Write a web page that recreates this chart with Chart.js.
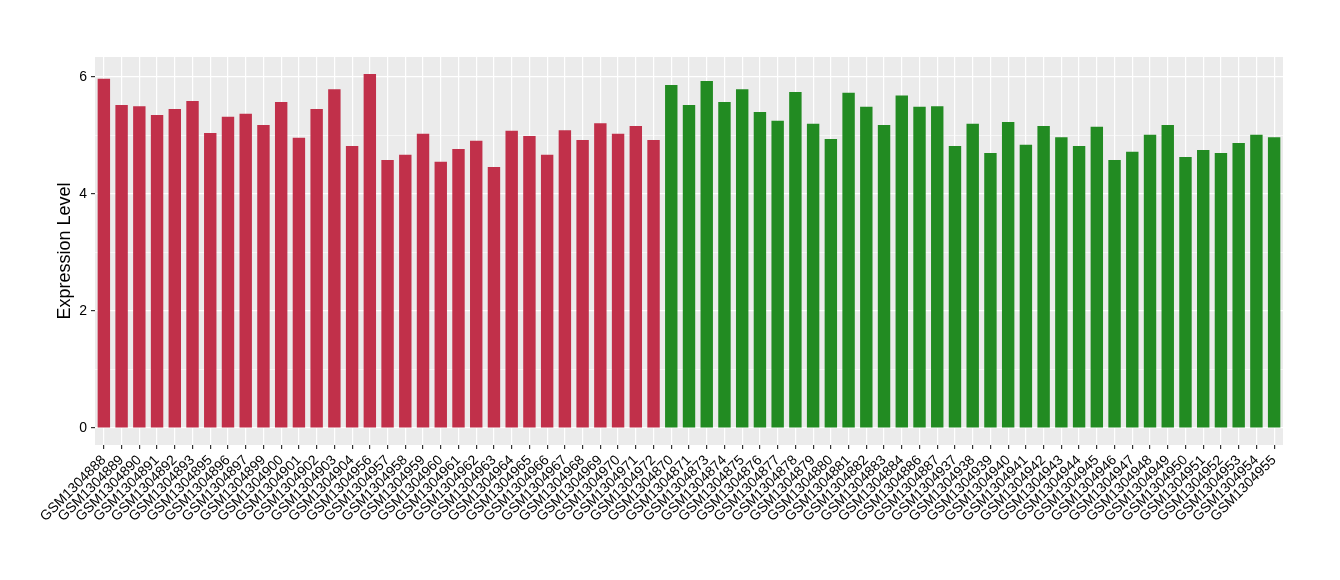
<!DOCTYPE html>
<html lang="en">
<head>
    <meta charset="UTF-8">
    <title>Expression Level</title>
    <script src="https://cdn.jsdelivr.net/npm/chart.js"></script>
    <style>
        * {
            margin: 0;
            padding: 0;
            box-sizing: border-box;
        }

        body {
            background: #ffffff;
        }

        .chart-container {
            width: 1340px;
            height: 580px;
        }
    </style>
</head>
<body>
    <div class="chart-container">
        <canvas id="exprChart"></canvas>
    </div>

    <script>
        const redSamples = [
            'GSM1304888', 'GSM1304889', 'GSM1304890', 'GSM1304891', 'GSM1304892', 'GSM1304893',
            'GSM1304895', 'GSM1304896', 'GSM1304897', 'GSM1304899', 'GSM1304900', 'GSM1304901',
            'GSM1304902', 'GSM1304903', 'GSM1304904', 'GSM1304956', 'GSM1304957', 'GSM1304958',
            'GSM1304959', 'GSM1304960', 'GSM1304961', 'GSM1304962', 'GSM1304963', 'GSM1304964',
            'GSM1304965', 'GSM1304966', 'GSM1304967', 'GSM1304968', 'GSM1304969', 'GSM1304970',
            'GSM1304971', 'GSM1304972'
        ];
        const redValues = [
            5.97, 5.52, 5.50, 5.35, 5.45, 5.59,
            5.04, 5.32, 5.37, 5.18, 5.57, 4.96,
            5.45, 5.79, 4.82, 6.05, 4.58, 4.67,
            5.03, 4.55, 4.77, 4.91, 4.46, 5.08,
            4.99, 4.67, 5.09, 4.92, 5.21, 5.03,
            5.16, 4.92
        ];

        const greenSamples = [
            'GSM1304870', 'GSM1304871', 'GSM1304873', 'GSM1304874', 'GSM1304875', 'GSM1304876',
            'GSM1304877', 'GSM1304878', 'GSM1304879', 'GSM1304880', 'GSM1304881', 'GSM1304882',
            'GSM1304883', 'GSM1304884', 'GSM1304886', 'GSM1304887', 'GSM1304937', 'GSM1304938',
            'GSM1304939', 'GSM1304940', 'GSM1304941', 'GSM1304942', 'GSM1304943', 'GSM1304944',
            'GSM1304945', 'GSM1304946', 'GSM1304947', 'GSM1304948', 'GSM1304949', 'GSM1304950',
            'GSM1304951', 'GSM1304952', 'GSM1304953', 'GSM1304954', 'GSM1304955'
        ];
        const greenValues = [
            5.86, 5.52, 5.93, 5.57, 5.79, 5.40,
            5.25, 5.74, 5.20, 4.94, 5.73, 5.49,
            5.18, 5.68, 5.49, 5.50, 4.82, 5.20,
            4.70, 5.23, 4.84, 5.16, 4.97, 4.82,
            5.15, 4.58, 4.72, 5.01, 5.18, 4.63,
            4.75, 4.70, 4.87, 5.01, 4.97
        ];

        const yTicks = [0, 1, 2, 3, 4, 5, 6];
        const yTickLabels = ['0', '', '2', '', '4', '', '6'];

        const RED = '#C1304A';
        const GREEN = '#228B22';

        const labels = redSamples.concat(greenSamples);
        const values = redValues.concat(greenValues);
        const colors = redSamples.map(() => RED).concat(greenSamples.map(() => GREEN));

        // grey panel behind the plot, like ggplot
        const panelBg = {
            id: 'panelBg',
            beforeDraw(chart) {
                const { ctx, chartArea: a } = chart;
                ctx.save();
                ctx.fillStyle = '#EBEBEB';
                ctx.fillRect(a.left, a.top, a.right - a.left, a.bottom - a.top);
                ctx.restore();
            }
        };

        const ctx = document.getElementById('exprChart').getContext('2d');
        new Chart(ctx, {
            type: 'bar',
            data: {
                labels: labels,
                datasets: [{
                    data: values,
                    backgroundColor: colors,
                    borderWidth: 0,
                    barPercentage: 0.7,
                    categoryPercentage: 1.0
                }]
            },
            options: {
                responsive: true,
                maintainAspectRatio: false,
                animation: false,
                layout: {
                    padding: { top: 57, right: 57, left: 0, bottom: 0 }
                },
                plugins: {
                    legend: { display: false },
                    tooltip: { enabled: false }
                },
                scales: {
                    x: {
                        offset: true,
                        border: { display: false },
                        grid: {
                            offset: false,
                            color: '#FFFFFF',
                            lineWidth: 1.2,
                            tickColor: '#333333',
                            tickLength: 4
                        },
                        ticks: {
                            autoSkip: false,
                            maxRotation: 45,
                            minRotation: 45,
                            padding: 3,
                            color: '#000000',
                            font: { family: 'Liberation Sans, Arial, sans-serif', size: 14 }
                        },
                        afterFit(scale) {
                            scale.height = 135;
                        }
                    },
                    y: {
                        min: -0.29,
                        max: 6.34,
                        border: { display: false },
                        grid: {
                            color: '#FFFFFF',
                            lineWidth: c => (c.tick && c.tick.value % 2 === 0) ? 1.2 : 0.6,
                            tickColor: c => (c.tick && c.tick.value % 2 === 0) ? '#333333' : 'rgba(0,0,0,0)',
                            tickLength: 4
                        },
                        afterBuildTicks(scale) {
                            scale.ticks = yTicks.map(v => ({ value: v }));
                        },
                        ticks: {
                            padding: 4,
                            color: '#000000',
                            font: { family: 'Liberation Sans, Arial, sans-serif', size: 14 },
                            callback: function (val, i) {
                                return yTickLabels[i];
                            }
                        },
                        title: {
                            display: true,
                            text: 'Expression Level',
                            color: '#000000',
                            font: { family: 'Liberation Sans, Arial, sans-serif', size: 18 },
                            padding: { top: 54, bottom: 0 }
                        },
                        afterFit(scale) {
                            scale.width = 95;
                        }
                    }
                }
            },
            plugins: [panelBg]
        });
    </script>
</body>
</html>
